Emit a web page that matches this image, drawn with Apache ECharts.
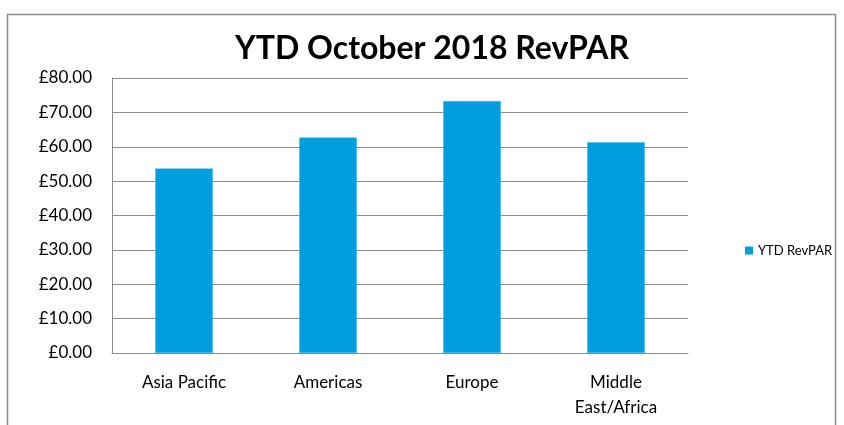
<!DOCTYPE html>
<html>
<head>
<meta charset="utf-8">
<script src="https://cdn.jsdelivr.net/npm/echarts@6/dist/echarts.min.js"></script>
<style>html,body{margin:0;padding:0;background:#fff}#c{width:844px;height:425px}</style>
</head>
<body>
<div id="c"></div>
<script>
const categories = ['Asia Pacific', 'Americas', 'Europe', 'Middle\nEast/Africa'];
const seriesName = 'YTD RevPAR';
const revpar = [53.7, 62.7, 73.3, 61.3];
const titleText = 'YTD October 2018 RevPAR';

const chart = echarts.init(document.getElementById('c'));
chart.setOption({
  animation: false,
  backgroundColor: '#fff',
  graphic: [{
    type: 'rect', shape: {x: 7.5, y: 14.5, width: 828, height: 430},
    style: {fill: 'none', stroke: '#8c8c8c', lineWidth: 1.5}, silent: true
  }],
  title: {
    text: titleText, top: 28, left: 427, textAlign: 'center',
    textStyle: {fontFamily: 'Lato', fontWeight: 'bold', fontSize: 32, color: '#000'}
  },
  legend: {
    top: 239, left: 740, itemWidth: 8, itemHeight: 8, itemGap: 4,
    icon: 'rect', textStyle: {fontFamily: 'Lato', fontSize: 13, color: '#000'},
    itemStyle: {borderWidth: 0},
    data: [seriesName]
  },
  grid: {left: 112, right: 156, top: 78, bottom: 72, containLabel: false},
  xAxis: {
    type: 'category', data: categories,
    axisLine: {lineStyle: {color: '#8c8c8c', width: 1}},
    axisTick: {show: false},
    axisLabel: {fontFamily: 'Lato', fontSize: 17, color: '#000', margin: 17, lineHeight: 25, interval: 0}
  },
  yAxis: {
    type: 'value', min: 0, max: 80, interval: 10,
    axisLine: {show: true, lineStyle: {color: '#8c8c8c', width: 1}},
    axisTick: {show: false},
    splitLine: {lineStyle: {color: '#8c8c8c', width: 1}},
    axisLabel: {fontFamily: 'Lato', fontSize: 17, color: '#000', margin: 20,
      formatter: v => '£' + v.toFixed(2)}
  },
  series: [{
    name: seriesName, type: 'bar', data: revpar, barCategoryGap: '60%',
    itemStyle: {color: '#009EDC', borderColor: '#3fb8ea', borderWidth: 0.5}
  }]
});
</script>
</body>
</html>
